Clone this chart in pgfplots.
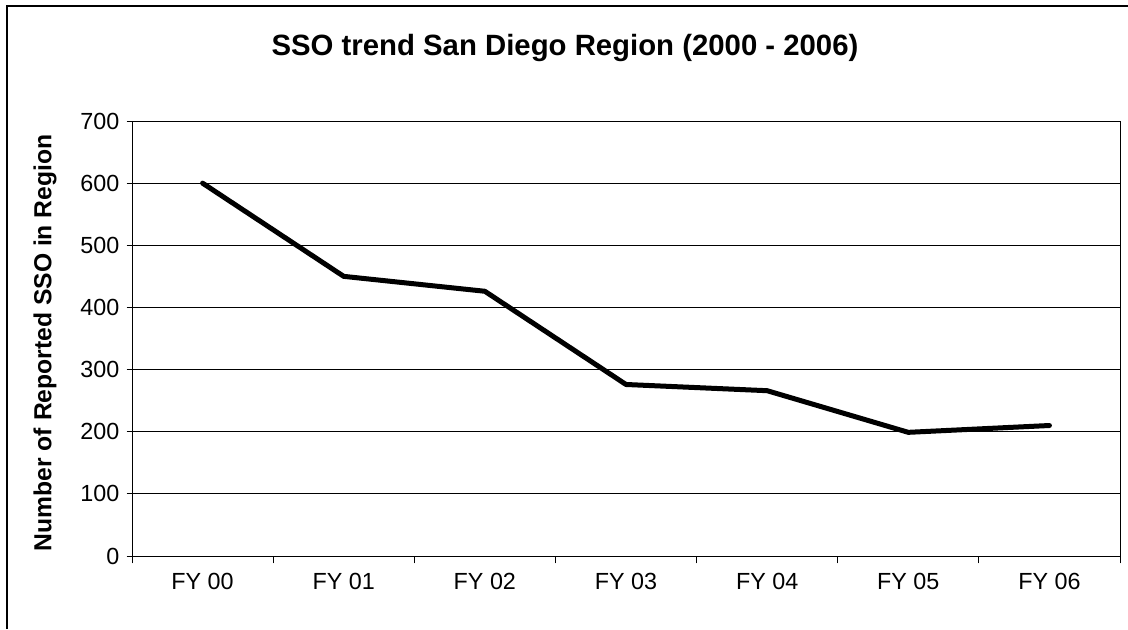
\documentclass[border=0pt]{standalone}
\usepackage{fontspec}
\setmainfont{Liberation Sans}
\usepackage{pgfplots}
\pgfplotsset{compat=1.18}
\begin{document}
\begin{tikzpicture}[x=1pt,y=1pt]
\path[use as bounding box] (0,0) rectangle (846,471.75);
\draw[line width=0.9pt] (5.25,0) -- (5.25,467.25) -- (846,467.25);
\node[font=\fontsize{22}{26}\bfseries\selectfont] at (423.75,435.5) {SSO trend San Diego Region (2000 - 2006)};
\begin{axis}[
  at={(99pt,54.75pt)}, anchor=south west,
  scale only axis, width=741pt, height=326.25pt,
  xmin=-0.5, xmax=6.5, ymin=0, ymax=700,
  ytick={0,100,...,700},
  xtick={0,...,6},
  xticklabels={FY 00,FY 01,FY 02,FY 03,FY 04,FY 05,FY 06},
  minor xtick={-0.5,0.5,...,6.5},
  major x tick style={draw=none},
  minor x tick style={black, line width=0.6pt},
  minor tick length=5.5pt,
  major tick length=4pt,
  tick align=outside,
  xtick pos=bottom, ytick pos=left,
  ymajorgrids,
  grid style={black, line width=0.6pt},
  axis line style={black, line width=0.6pt},
  tick style={black, line width=0.6pt},
  /pgf/number format/assume math mode=true,
  tick label style={font=\fontsize{17.5}{20}\selectfont},
  xticklabel style={yshift=-5pt},
  yticklabel style={xshift=-2pt},
  ylabel={Number of Reported SSO in Region},
  ylabel style={font=\fontsize{18.5}{22}\bfseries\selectfont, at={(axis description cs:-0.088,0.49)}, anchor=center, rotate=0},
]
\addplot[black, line width=3.75pt, line join=round, line cap=round] coordinates {
(0,600) (1,450) (2,426) (3,276) (4,266) (5,199) (6,210)
};
\end{axis}
\end{tikzpicture}
\end{document}
